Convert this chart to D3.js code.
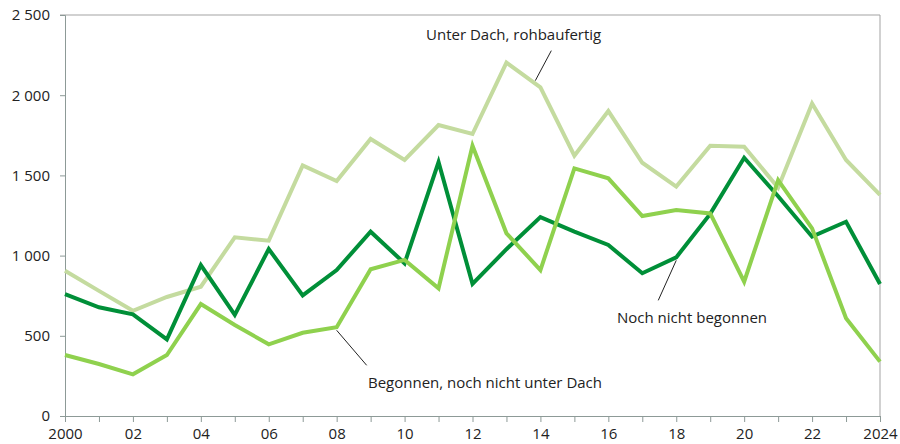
<!DOCTYPE html>
<html>
<head>
<meta charset="utf-8">
<script src="https://cdn.jsdelivr.net/npm/d3@7"></script>
<style>
  body { margin: 0; background: #fff; }
  svg text { font-family: "Open Sans", "Noto Sans", sans-serif; fill: #222; }
</style>
</head>
<body>
<div id="chart"></div>
<script>
// years on the x axis
const years = d3.range(2000, 2025);
const yTicks = [0, 500, 1000, 1500, 2000, 2500];

// Unter Dach, rohbaufertig
const unterDach = [906, 780, 656, 742, 806, 1114, 1093, 1562, 1465, 1727, 1596, 1814, 1758, 2203, 2049, 1623, 1901, 1579, 1430, 1685, 1679, 1423, 1949, 1596, 1378];
// Noch nicht begonnen
const nochNicht = [760, 678, 634, 478, 941, 630, 1041, 752, 910, 1149, 952, 1583, 823, 1040, 1240, 1150, 1066, 890, 989, 1260, 1610, 1370, 1118, 1211, 823];
// Begonnen, noch nicht unter Dach
const begonnen = [380, 324, 260, 380, 698, 567, 447, 519, 553, 915, 973, 796, 1685, 1139, 910, 1544, 1482, 1247, 1284, 1263, 837, 1471, 1170, 609, 339];

const W = 900, H = 444;
const margin = { top: 15, right: 20, bottom: 28, left: 65 };
const width = W - margin.left - margin.right;
const height = H - margin.top - margin.bottom;

const svg = d3.select('#chart').append('svg')
  .attr('width', W).attr('height', H)
  .append('g')
  .attr('transform', `translate(${margin.left},${margin.top})`);

const x = d3.scaleLinear().domain([2000, 2024]).range([0, width]);
const y = d3.scaleLinear().domain([0, 2500]).range([height, 0]);

// frame: top and right
svg.append('line').attr('x1', -5).attr('x2', width).attr('y1', 0).attr('y2', 0)
  .attr('stroke', '#a3a3a3').attr('stroke-width', 1);
svg.append('line').attr('x1', width).attr('x2', width).attr('y1', 0).attr('y2', height)
  .attr('stroke', '#a3a3a3').attr('stroke-width', 1);

// y axis
const fmt = d => d3.format(',')(d).replace(',', '\u2009');
const yAxis = svg.append('g')
  .call(d3.axisLeft(y).tickValues(yTicks).tickSize(5).tickPadding(10)
    .tickFormat(d => d3.format(',')(d).replace(',', ' ')));
yAxis.select('.domain').attr('stroke', '#8d9a97');
yAxis.selectAll('.tick line').attr('stroke', '#8d9a97');
yAxis.selectAll('text').style('font-size', '15px').attr('fill', '#222');

// x axis
const xAxis = svg.append('g')
  .attr('transform', `translate(0,${height})`)
  .call(d3.axisBottom(x).tickValues(years).tickSize(6).tickPadding(6)
    .tickFormat(d => (d === 2000 || d === 2024) ? String(d) : (d % 2 === 0 ? String(d).slice(2) : '')));
xAxis.select('.domain').attr('stroke', '#8d9a97');
xAxis.selectAll('.tick line').attr('stroke', '#8d9a97');
xAxis.selectAll('text').style('font-size', '15px').attr('fill', '#222');

const line = d3.line()
  .x((d, i) => x(years[i]))
  .y(d => y(d));

const series = [
  { values: unterDach, color: '#c4db9f' },
  { values: nochNicht, color: '#008f38' },
  { values: begonnen, color: '#8fd14e' }
];

series.forEach(s => {
  svg.append('path')
    .datum(s.values)
    .attr('fill', 'none')
    .attr('stroke', s.color)
    .attr('stroke-width', 4)
    .attr('stroke-linejoin', 'miter')
    .attr('d', line);
});

// labels with leader lines (anchored to data points)
const labels = [
  { text: 'Unter Dach, rohbaufertig', year: 2013.85, val: unterDach[13] + (unterDach[14] - unterDach[13]) * 0.85, dx: 16, dy: -33, tx: 426, ty: 40 },
  { text: 'Begonnen, noch nicht unter Dach', year: 2008, val: begonnen[8], dx: 30, dy: 38, tx: 368, ty: 388 },
  { text: 'Noch nicht begonnen', year: 2018, val: nochNicht[18], dx: -18, dy: 43, tx: 617, ty: 323 }
];

labels.forEach(l => {
  const px = x(l.year), py = y(l.val);
  svg.append('line')
    .attr('x1', px).attr('y1', py + (l.dy > 0 ? 3 : -3))
    .attr('x2', px + l.dx).attr('y2', py + l.dy)
    .attr('stroke', '#222').attr('stroke-width', 1);
  svg.append('text')
    .attr('x', l.tx - margin.left).attr('y', l.ty - margin.top)
    .style('font-size', '15px')
    .text(l.text);
});
</script>
</body>
</html>
